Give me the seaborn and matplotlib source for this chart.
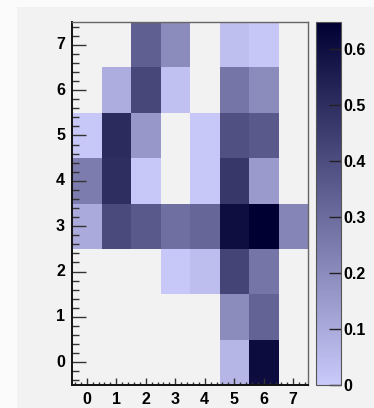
import numpy as np
import pandas as pd
import matplotlib
matplotlib.use('Agg')
import matplotlib.pyplot as plt
import seaborn as sns
from matplotlib.colors import LinearSegmentedColormap
from matplotlib.ticker import FixedLocator
from matplotlib.patches import Rectangle

# bin contents, one list per y bin (y = 7 at top down to y = 0), x bins 0..7
x_bins = [0, 1, 2, 3, 4, 5, 6, 7]
y_bins = [7, 6, 5, 4, 3, 2, 1, 0]
row_7 = [0, 0, 0.34, 0.20, 0, 0.036, 0.012, 0]
row_6 = [0, 0.09, 0.42, 0.03, 0, 0.27, 0.20, 0]
row_5 = [0.01, 0.51, 0.16, 0, 0.01, 0.39, 0.36, 0]
row_4 = [0.25, 0.50, 0.01, 0, 0.01, 0.47, 0.15, 0]
row_3 = [0.10, 0.41, 0.36, 0.29, 0.32, 0.60, 0.65, 0.22]
row_2 = [0, 0, 0, 0.01, 0.04, 0.43, 0.27, 0]
row_1 = [0, 0, 0, 0, 0, 0.20, 0.33, 0]
row_0 = [0, 0, 0, 0, 0, 0.065, 0.61, 0]
cbar_ticks = [0, 0.1, 0.2, 0.3, 0.4, 0.5, 0.6]
cbar_labels = ['0', '0.1', '0.2', '0.3', '0.4', '0.5', '0.6']

grid = pd.DataFrame([row_7, row_6, row_5, row_4, row_3, row_2, row_1, row_0],
                    index=y_bins, columns=x_bins)

plt.rcParams['font.family'] = ['Liberation Sans', 'DejaVu Sans']
plt.rcParams['font.weight'] = 'bold'

bg = '#f2f2f2'
cmap = LinearSegmentedColormap.from_list('root_blue', ['#c9c9fa', '#000033'])

fig = plt.figure(figsize=(3.74, 4.08), dpi=100, facecolor='#fbfbfb')
fig.patches.append(Rectangle((17 / 374, 0), 1, 1 - 7 / 408, transform=fig.transFigure,
                             facecolor=bg, edgecolor='none', zorder=-10))

ax = fig.add_axes([72 / 374, 23 / 408, 236 / 374, 363 / 408])
cax = fig.add_axes([316 / 374, 23 / 408, 25 / 374, 363 / 408])
ax.set_facecolor(bg)

sns.heatmap(grid, ax=ax, cbar_ax=cax, cmap=cmap, vmin=0, vmax=0.648,
            mask=grid == 0, linewidths=0)

# ROOT style axes: major ticks on integers, minor every 0.2
major = [i + 0.5 for i in range(8)]
minor = [round(0.1 + 0.2 * k, 2) for k in range(40) if (k - 2) % 5 != 0]
ax.xaxis.set_major_locator(FixedLocator(major))
ax.xaxis.set_minor_locator(FixedLocator(minor))
ax.yaxis.set_major_locator(FixedLocator(major))
ax.yaxis.set_minor_locator(FixedLocator(minor))
ax.set_xticklabels([str(v) for v in x_bins], rotation=0, fontsize=11.5, fontweight='bold')
ax.set_yticklabels([str(v) for v in y_bins], rotation=0, fontsize=11.5, fontweight='bold')
ax.set_xlabel('')
ax.set_ylabel('')
ax.tick_params(axis='y', which='major', direction='in', length=10, width=1, pad=5, color='#333333')
ax.tick_params(axis='y', which='minor', direction='in', length=5, width=1, color='#333333')
ax.tick_params(axis='x', which='major', direction='in', length=5, width=1, pad=5, color='#333333')
ax.tick_params(axis='x', which='minor', direction='in', length=2.5, width=1, color='#333333')

for side in ['left', 'bottom', 'top', 'right']:
    ax.spines[side].set_visible(True)
ax.spines['left'].set_linewidth(1.4)
ax.spines['bottom'].set_linewidth(1.4)
ax.spines['left'].set_color('#111111')
ax.spines['bottom'].set_color('#111111')
ax.spines['top'].set_color('#666666')
ax.spines['right'].set_color('#666666')
ax.spines['top'].set_linewidth(1)
ax.spines['right'].set_linewidth(1)

cbar = ax.collections[0].colorbar
cbar.set_ticks(cbar_ticks)
cbar.set_ticklabels(cbar_labels)
cbar.outline.set_edgecolor('#555555')
cbar.outline.set_linewidth(0.8)
cax.tick_params(direction='in', length=9, width=1, pad=2, labelsize=11.5, color='#222222')
for lab in cax.get_yticklabels():
    lab.set_fontweight('bold')

fig.savefig('out.png', dpi=100, facecolor=fig.get_facecolor())
